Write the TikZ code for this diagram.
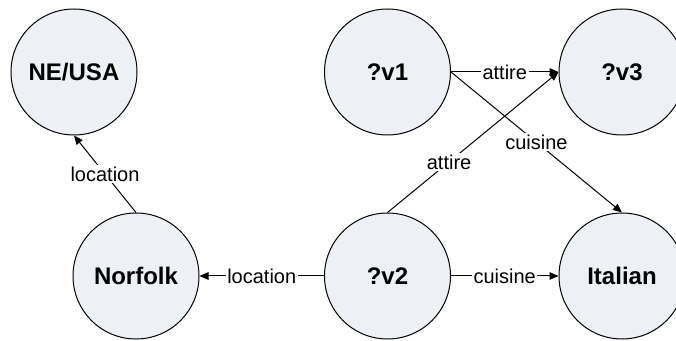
\documentclass[tikz,border=0pt]{standalone}
\usepackage{fontspec}
\setmainfont{Liberation Sans}
\usetikzlibrary{arrows.meta}
\definecolor{nodefill}{RGB}{237,240,245}
\tikzset{
  concept/.style={circle, draw=black, fill=nodefill, line width=0.5pt,
    minimum size=63pt, inner sep=0pt, font=\fontsize{12}{14}\selectfont\bfseries},
  rel/.style={draw=black, line width=0.5pt,
    -{Triangle[length=4.5pt,width=3.8pt]}},
  lbl/.style={fill=white, inner sep=0.8pt, font=\fontsize{10}{12}\selectfont}
}
\begin{document}
\begin{tikzpicture}[x=0.5pt,y=-0.5pt]
\useasboundingbox (0,0) rectangle (676,341);
\clip (0,0) rectangle (676,341);

\node[concept] (ne) at (74,72) {NE/USA};
\node[concept] (norfolk) at (136,276) {Norfolk};
\node[concept] (v1) at (387.5,72) {?v1};
\node[concept] (v3) at (622,72) {?v3};
\node[concept] (v2) at (387.5,276) {?v2};
\node[concept] (italian) at (622,276) {Italian};

\draw[rel] (norfolk.north) -- node[lbl] {location} (ne.south);
\draw[rel] (v2.west) -- node[lbl] {location} (norfolk.east);
\draw[rel] (v1.east) -- node[lbl] {attire} (v3.west);
\draw[rel] (v1.east) -- node[lbl] {cuisine} (italian.north);
\draw[rel] (v2.north) -- node[lbl, pos=0.36] {attire} (v3.west);
\draw[rel] (v2.east) -- node[lbl] {cuisine} (italian.west);
\end{tikzpicture}
\end{document}
